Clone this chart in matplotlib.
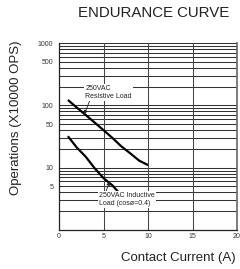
import matplotlib
matplotlib.use("Agg")
import matplotlib.pyplot as plt
import numpy as np

plt.rcParams['font.family'] = ['Liberation Sans', 'DejaVu Sans']

title = "ENDURANCE CURVE"
xlabel = "Contact Current (A)"
ylabel = "Operations (X10000 OPS)"

xticks = [0, 5, 10, 15, 20]
yticks = [5, 10, 50, 100, 500, 1000]
ytick_labels = ["5", "10", "50", "100", "500", "1000"]

res_x = [1, 2, 3, 4, 5, 6, 7, 8, 9, 10]
res_y = [122, 92, 70, 53, 40, 30, 22, 17, 13, 11]

ind_x = [1, 2, 3, 4, 5, 6, 7]
ind_y = [32, 21, 15, 9.8, 6.8, 5.2, 3.6]

res_label = "250VAC\nResistive Load"
ind_label = "250VAC Inductive\nLoad (cos\u00f8=0.4)"

fig = plt.figure(figsize=(2.40, 2.69), dpi=100)
ax = fig.add_axes([59/240, 1 - 230/269, 178/240, 187/269])
ax.set_yscale('log')
ax.set_xlim(0, 20)
ax.set_ylim(1, 1000)

# grid lines
gc = '#333333'
for d in [1, 10, 100]:
    for m in range(1, 10):
        v = d * m
        if v > 1:
            ax.axhline(v, color=gc, lw=0.75, zorder=1)
ax.axhline(1000, color=gc, lw=0.75, zorder=1)
for xv in [5, 10, 15]:
    ax.axvline(xv, color='#444444', lw=0.75, zorder=1)

ax.plot(res_x, res_y, color='black', lw=1.6, zorder=3, solid_capstyle='butt')
ax.plot(ind_x, ind_y, color='black', lw=1.6, zorder=3, solid_capstyle='butt')

box = dict(boxstyle='square,pad=0.15', fc='white', ec='none')
ax.annotate(res_label, xy=(2.85, 72), xytext=(2.95, 160), fontsize=5,
            ha='left', va='center', color='#222222', bbox=box, zorder=5,
            arrowprops=dict(arrowstyle='-|>', color='#222222', lw=0.6,
                            mutation_scale=5, shrinkA=0, shrinkB=0,
                            relpos=(0.1, 0.0)))
ax.annotate(ind_label, xy=(5.7, 6.0), xytext=(4.5, 3.1), fontsize=5,
            ha='left', va='center', color='#222222', bbox=box, zorder=5,
            arrowprops=dict(arrowstyle='-|>', color='#222222', lw=0.6,
                            mutation_scale=5, shrinkA=0, shrinkB=0,
                            relpos=(0.12, 1.0)))

ax.set_xticks(xticks)
ax.set_xticklabels([str(t) for t in xticks])
ax.set_yticks(yticks)
ax.set_yticklabels(ytick_labels)
ax.yaxis.set_minor_locator(matplotlib.ticker.NullLocator())
ax.tick_params(axis='y', length=0, labelsize=5, colors='#333333', pad=4)
ax.tick_params(axis='x', length=0, labelsize=5, colors='#333333', pad=2.5)

for s in ['top']:
    ax.spines[s].set_visible(False)
ax.spines['left'].set_color('#222222')
ax.spines['bottom'].set_color('#222222')
ax.spines['right'].set_color('#666666')
ax.spines['right'].set_linewidth(1.2)
for s in ['left', 'bottom']:
    ax.spines[s].set_linewidth(0.9)

fig.text(154/240, 1 - 13/269, title, ha='center', va='center', fontsize=10.8, color='#222222')
fig.text(236/240, 1 - 258/269, xlabel, ha='right', va='center', fontsize=9.5, color='#222222')
fig.text(16/240, 1 - 118/269, ylabel, ha='center', va='center', rotation=90, fontsize=9.5, color='#222222')

fig.savefig('out.png', dpi=100)
